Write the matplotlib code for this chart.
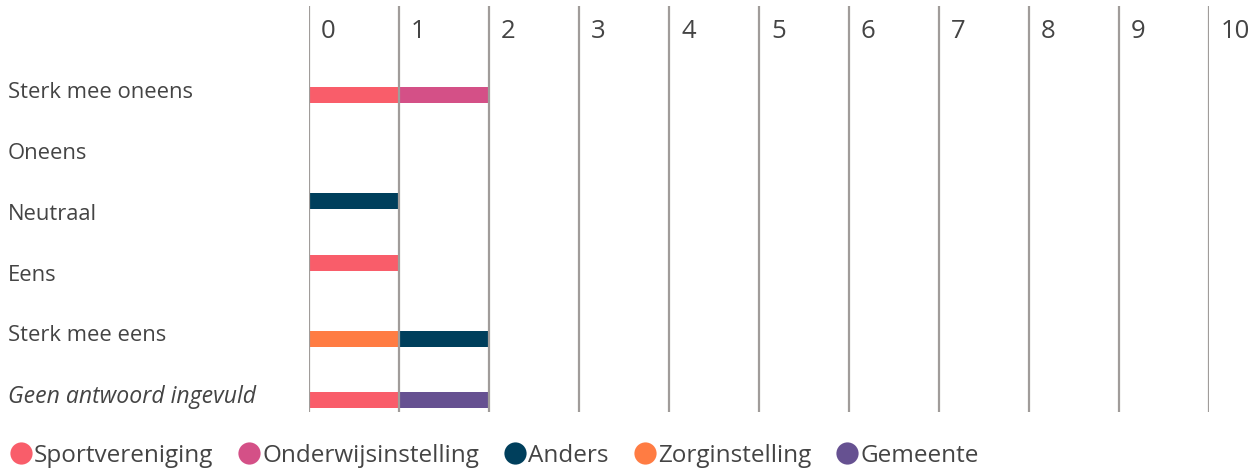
import matplotlib
matplotlib.use("Agg")
import matplotlib.pyplot as plt
from matplotlib.lines import Line2D
import numpy as np

# DATA
categories = ["Sterk mee oneens", "Oneens", "Neutraal", "Eens",
              "Sterk mee eens", "Geen antwoord ingevuld"]
sportvereniging = [1, 0, 0, 1, 0, 1]
onderwijsinstelling = [1, 0, 0, 0, 0, 0]
anders = [0, 0, 1, 0, 1, 0]
zorginstelling = [0, 0, 0, 0, 1, 0]
gemeente = [0, 0, 0, 0, 0, 1]
x_ticks = list(range(0, 11))

# STYLE / LAYOUT
colors = {"Sportvereniging": "#F95D6A", "Onderwijsinstelling": "#D45087",
          "Anders": "#003F5C", "Zorginstelling": "#FF7C43", "Gemeente": "#665191"}
series = {"Sportvereniging": sportvereniging, "Onderwijsinstelling": onderwijsinstelling,
          "Anders": anders, "Zorginstelling": zorginstelling, "Gemeente": gemeente}
stack_order = ["Sportvereniging", "Onderwijsinstelling", "Zorginstelling", "Anders", "Gemeente"]
legend_order = ["Sportvereniging", "Onderwijsinstelling", "Anders", "Zorginstelling", "Gemeente"]
bar_offsets = np.array([5, 0, -10, -9, 6, 6]) / 60.8  # slight shift of bars vs labels
text_color = "#444444"
grid_color = "#A09C9A"

plt.rcParams['font.family'] = ['Open Sans', 'DejaVu Sans']

W, H = 1257, 472
fig = plt.figure(figsize=(W / 100, H / 100), dpi=100)
ax = fig.add_axes([309 / W, 1 - 412 / H, 900 / W, 406 / H])

ypos = np.arange(len(categories))
left = np.zeros(len(categories))
for name in stack_order:
    vals = np.array(series[name], dtype=float)
    ax.barh(ypos + bar_offsets, vals, left=left, height=16 / 60.8,
            color=colors[name], linewidth=0, zorder=2)
    left += vals

ax.set_xlim(0, 10)
ax.set_ylim(5.30, -1.38)

for t in x_ticks:
    ax.axvline(t, color=grid_color, lw=1.6, zorder=3)
    ax.text(t + 12 / 90, -0.96, str(t), fontsize=18.5, color=text_color,
            va="center", ha="left", clip_on=False)

for i, c in enumerate(categories):
    italic = c.startswith("Geen")
    ax.text(-301 / 90, i + 3 / 60.8, c, fontsize=16.6 if italic else 15.8,
            color=text_color, va="center", ha="left",
            style="italic" if italic else "normal", clip_on=False)

ax.set_xticks([])
ax.set_yticks([])
for s in ax.spines.values():
    s.set_visible(False)

handles = [Line2D([], [], marker="o", linestyle="", markersize=16,
                  markerfacecolor=colors[n], markeredgewidth=0) for n in legend_order]
fig.legend(handles, legend_order, loc="center left", bbox_to_anchor=(0.0, 1 - 456 / H),
           ncol=5, frameon=False, fontsize=17.5, handletextpad=0.1,
           columnspacing=1.02, handlelength=0.9, borderaxespad=0, labelcolor=text_color)

fig.savefig("out.png", dpi=100)
